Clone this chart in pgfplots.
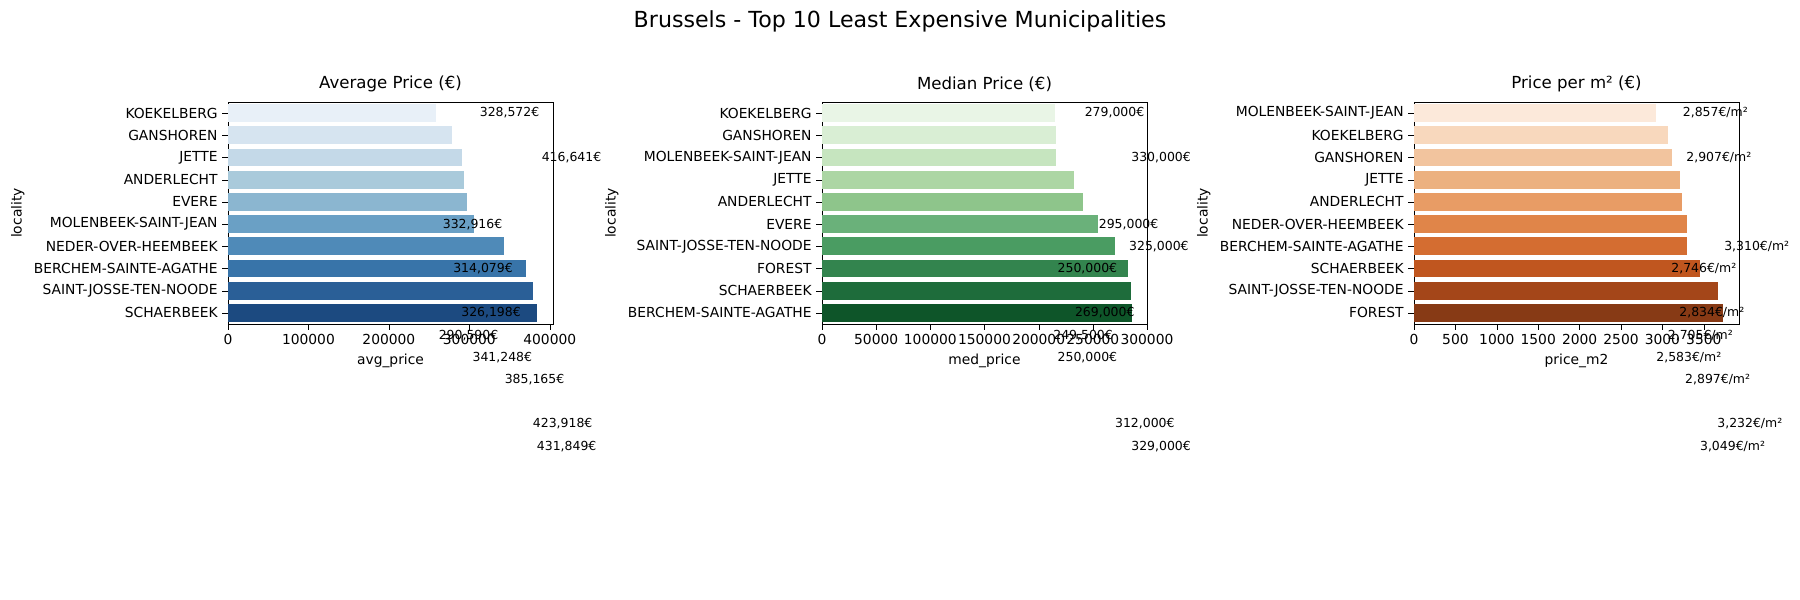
\documentclass[border=0pt]{standalone}
\usepackage{pgfplots}
\pgfplotsset{compat=1.18}
\usepackage{fontspec}
\setmainfont{DejaVu Sans}
\newcommand{\BarP}[2]{\addplot[xbar,fill=#1,draw=none,bar width=0.8,bar shift=0] coordinates {(#2)};}
\newcommand{\LabP}[2]{\node[font=\fontsize{9}{10}\selectfont,anchor=center] at (axis cs:#1) {#2};}
\pgfplotsset{
  panel/.style={scale only axis,width=3.25in,height=2.22in,anchor=north west,
    y dir=reverse,ymin=-0.5,ymax=9.5,xmin=0,ytick={0,...,9},clip=false,
    ylabel=locality,tick style={black},tick align=outside,xtick pos=bottom,ytick pos=left,
    ticklabel style={font=\fontsize{10}{12}\selectfont},
    label style={font=\fontsize{10}{12}\selectfont},
    title style={font=\fontsize{12}{14}\selectfont,yshift=-2pt},
    scaled x ticks=false,
    xticklabel style={/pgf/number format/fixed,/pgf/number format/1000 sep={}},
    /pgf/number format/assume math mode=true,
    axis line style={black},major tick length=4pt}
}
\definecolor{b0}{HTML}{E8F0F8}\definecolor{b1}{HTML}{D6E4F0}\definecolor{b2}{HTML}{C4D9E8}\definecolor{b3}{HTML}{A9CADB}\definecolor{b4}{HTML}{8BB6D0}
\definecolor{b5}{HTML}{6AA0C5}\definecolor{b6}{HTML}{4F8AB8}\definecolor{b7}{HTML}{3874A9}\definecolor{b8}{HTML}{2A5F97}\definecolor{b9}{HTML}{1C4A80}
\definecolor{g0}{HTML}{E9F5E6}\definecolor{g1}{HTML}{D9EED4}\definecolor{g2}{HTML}{C6E5BF}\definecolor{g3}{HTML}{ACD6A4}\definecolor{g4}{HTML}{8EC58B}
\definecolor{g5}{HTML}{6AB17A}\definecolor{g6}{HTML}{4A9C62}\definecolor{g7}{HTML}{33844E}\definecolor{g8}{HTML}{1E6C3B}\definecolor{g9}{HTML}{0E5529}
\definecolor{o0}{HTML}{FCE9DA}\definecolor{o1}{HTML}{F8D8BD}\definecolor{o2}{HTML}{F2C49E}\definecolor{o3}{HTML}{ECB180}\definecolor{o4}{HTML}{E89C65}
\definecolor{o5}{HTML}{E08549}\definecolor{o6}{HTML}{D46D31}\definecolor{o7}{HTML}{C0561F}\definecolor{o8}{HTML}{A44619}\definecolor{o9}{HTML}{873A15}
\begin{document}
\begin{tikzpicture}
\path (0,0) rectangle (18in,6in);
\node[font=\fontsize{16}{18}\selectfont] at (9in,5.79in) {Brussels - Top 10 Least Expensive Municipalities};
\begin{axis}[panel,at={(2.28in,4.98in)},xmax=404000,xtick={0,100000,200000,300000,400000},
  title={Average Price (€)},xlabel={avg\_price},
  yticklabels={KOEKELBERG,GANSHOREN,JETTE,ANDERLECHT,EVERE,MOLENBEEK-SAINT-JEAN,NEDER-OVER-HEEMBEEK,BERCHEM-SAINTE-AGATHE,SAINT-JOSSE-TEN-NOODE,SCHAERBEEK}]
\BarP{b0}{258600,0}\BarP{b1}{278600,1}\BarP{b2}{291000,2}\BarP{b3}{293000,3}\BarP{b4}{297000,4}
\BarP{b5}{306000,5}\BarP{b6}{343000,6}\BarP{b7}{371000,7}\BarP{b8}{379000,8}\BarP{b9}{384000,9}
\LabP{350000,0}{328,572€}\LabP{427000,2}{416,641€}\LabP{304000,5}{332,916€}\LabP{317000,7}{314,079€}
\LabP{327000,9}{326,198€}\LabP{299000,10}{290,590€}\LabP{341000,11}{341,248€}\LabP{381000,12}{385,165€}
\LabP{416000,14}{423,918€}\LabP{421000,15}{431,849€}
\end{axis}
\begin{axis}[panel,at={(8.22in,4.98in)},xmax=300000,xtick={0,50000,100000,150000,200000,250000,300000},
  title={Median Price (€)},xlabel={med\_price},
  yticklabels={KOEKELBERG,GANSHOREN,MOLENBEEK-SAINT-JEAN,JETTE,ANDERLECHT,EVERE,SAINT-JOSSE-TEN-NOODE,FOREST,SCHAERBEEK,BERCHEM-SAINTE-AGATHE}]
\BarP{g0}{215000,0}\BarP{g1}{216000,1}\BarP{g2}{216000,2}\BarP{g3}{233000,3}\BarP{g4}{241000,4}
\BarP{g5}{255000,5}\BarP{g6}{270000,6}\BarP{g7}{282000,7}\BarP{g8}{285000,8}\BarP{g9}{286000,9}
\LabP{270000,0}{279,000€}\LabP{313000,2}{330,000€}\LabP{283000,5}{295,000€}\LabP{311000,6}{325,000€}
\LabP{245000,7}{250,000€}\LabP{261000,9}{269,000€}\LabP{241000,10}{249,500€}\LabP{245000,11}{250,000€}
\LabP{298000,14}{312,000€}\LabP{313000,15}{329,000€}
\end{axis}
\begin{axis}[panel,at={(14.14in,4.98in)},xmax=3925,xtick={0,500,1000,1500,2000,2500,3000,3500},
  title={Price per m² (€)},xlabel={price\_m2},
  yticklabels={MOLENBEEK-SAINT-JEAN,KOEKELBERG,GANSHOREN,JETTE,ANDERLECHT,NEDER-OVER-HEEMBEEK,BERCHEM-SAINTE-AGATHE,SCHAERBEEK,SAINT-JOSSE-TEN-NOODE,FOREST}]
\BarP{o0}{2917,0}\BarP{o1}{3069,1}\BarP{o2}{3111,2}\BarP{o3}{3208,3}\BarP{o4}{3236,4}
\BarP{o5}{3292,5}\BarP{o6}{3292,6}\BarP{o7}{3458,7}\BarP{o8}{3667,8}\BarP{o9}{3736,9}
\LabP{3639,0}{2,857€/m²}\LabP{3681,2}{2,907€/m²}\LabP{4139,6}{3,310€/m²}\LabP{3500,7}{2,746€/m²}
\LabP{3597,9}{2,834€/m²}\LabP{3458,10}{2,705€/m²}\LabP{3319,11}{2,583€/m²}\LabP{3667,12}{2,897€/m²}
\LabP{4056,14}{3,232€/m²}\LabP{3847,15}{3,049€/m²}
\end{axis}
\end{tikzpicture}
\end{document}
